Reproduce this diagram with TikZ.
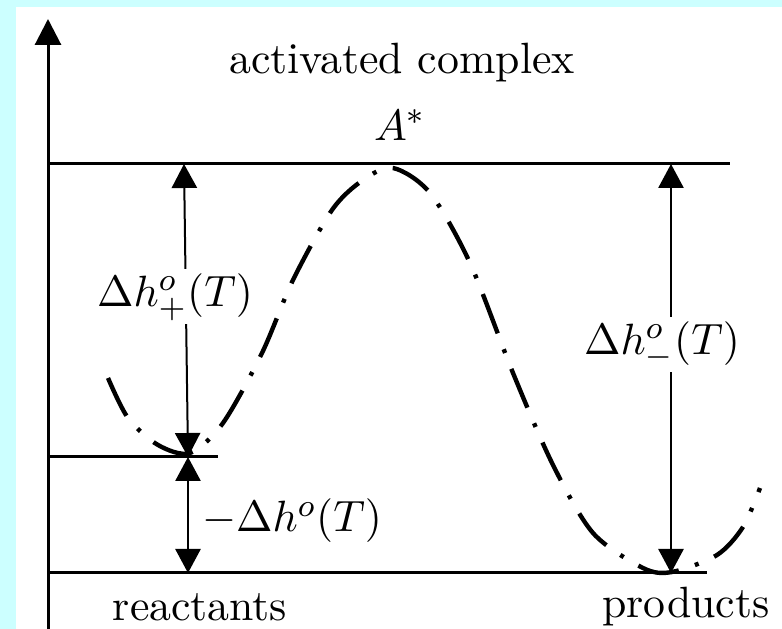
\documentclass[tikz,border=0pt]{standalone}
\usetikzlibrary{arrows.meta, positioning}
\definecolor{pagecyan}{RGB}{204,255,255}
\tikzstyle{level} = [line width=0.75pt]
\tikzstyle{axis} = [line width=0.75pt, -{Triangle[width=6.5pt, length=6.5pt]}]
\tikzstyle{darrow} = [line width=0.5pt, {Triangle[width=6.3pt, length=6pt]}-{Triangle[width=6.3pt, length=6pt]}]
\tikzstyle{energy} = [line width=1.1pt, dash pattern=on 10.5pt off 4.25pt on 1pt off 4.25pt]
\tikzstyle{lbl} = [fill=white, inner sep=1pt]

\begin{document}
\begin{tikzpicture}[x=0.25pt, y=-0.25pt, every node/.style={font=\fontsize{10.95}{13}\selectfont}]
  \useasboundingbox (0,0) rectangle (782,629);
  \fill[pagecyan] (0,0) rectangle (782,629);
  \fill[white] (16,7) rectangle (782,629);

  % axis and levels
  \coordinate (ax0) at (48,629);
  \coordinate (ax1) at (48,19);
  \coordinate (top0) at (48,164);
  \coordinate (top1) at (730,164);
  \coordinate (mid0) at (48,457);
  \coordinate (mid1) at (218,457);
  \coordinate (bot0) at (48,573);
  \coordinate (bot1) at (707,573);
  \draw[axis] (ax0) -- (ax1);
  \draw[level] (top0) -- (top1);
  \draw[level] (mid0) -- (mid1);
  \draw[level] (bot0) -- (bot1);

  % energy path
  \draw[energy] plot[smooth] coordinates {(108,378) (128,418) (158,445) (190,453) (223,423) (262,353) (293,280) (332,210) (363,180) (393,168) (430,193) (470,263) (513,373) (553,465) (593,533) (643,568) (672,572) (717,555) (743,527) (760,488)};

  % arrows
  \coordinate (ap1) at (184,164);
  \coordinate (ap0) at (188,457);
  \coordinate (ar0) at (188,573);
  \coordinate (am1) at (671,164);
  \coordinate (am0) at (671,573);
  \draw[darrow] (ap0) -- (ap1);
  \draw[darrow] (ar0) -- (ap0);
  \draw[darrow] (am0) -- (am1);

  % labels
  \node (cplx) at (402,63) {activated complex};
  \node (astar) at (400,125) {$A^*$};
  \node[lbl] (dhp) at (175,297) {$\Delta h^o_+(T)$};
  \node[lbl] (dhm) at (662,345) {$\Delta h^o_-(T)$};
  \node (dh) at (292,521) {$-\Delta h^o(T)$};
  \node (reac) at (200,607) {reactants};
  \node (prod) at (686,607) {products};
\end{tikzpicture}
\end{document}
